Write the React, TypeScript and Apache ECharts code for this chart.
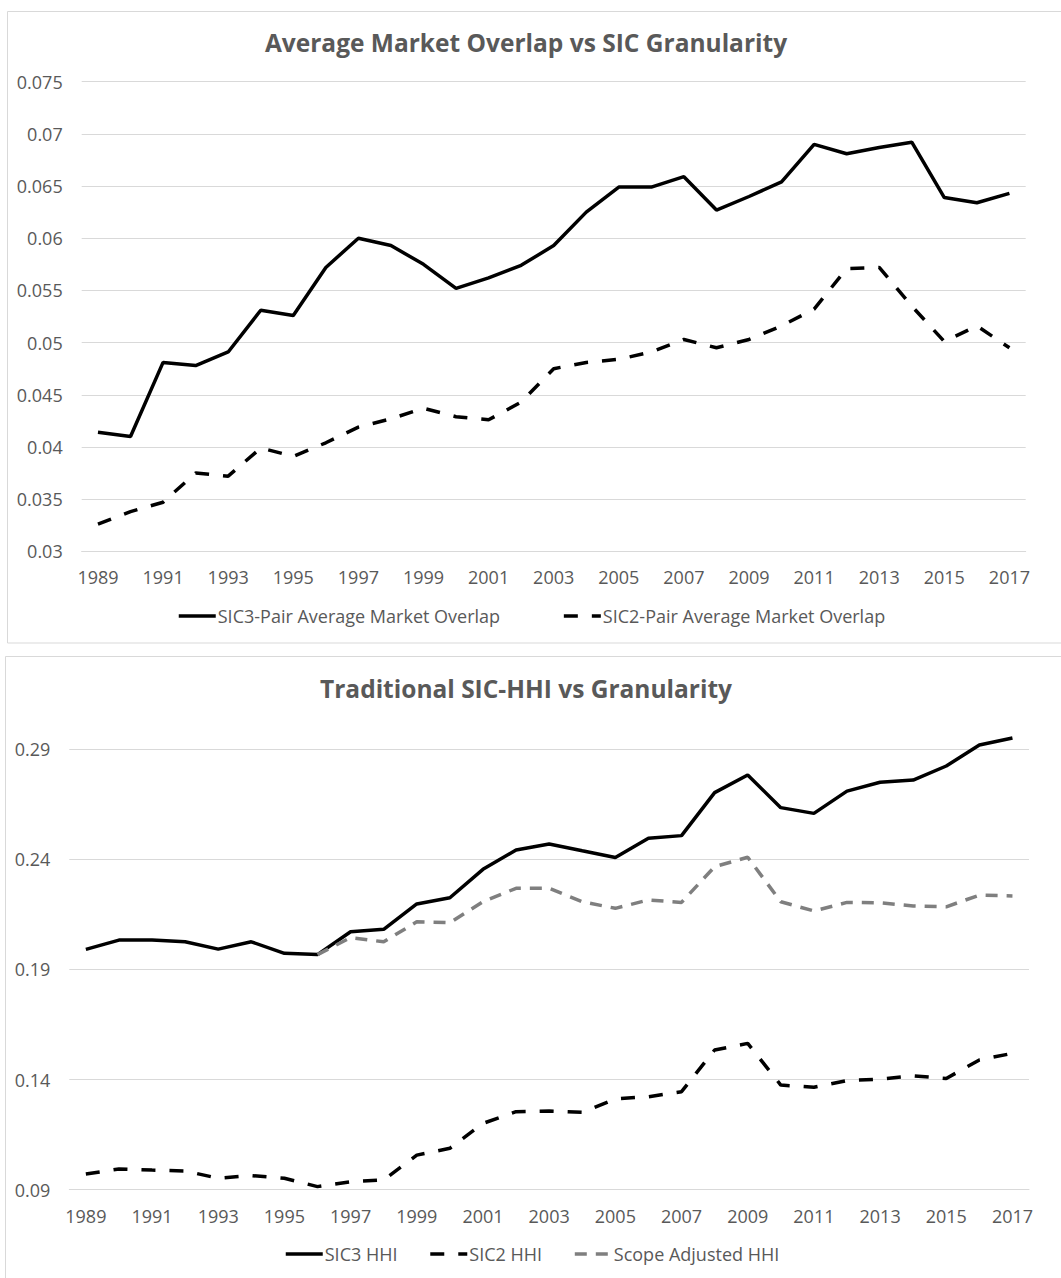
import React, { useEffect, useRef } from "react";
import * as echarts from "echarts";

const years = [
  "1989","1990","1991","1992","1993","1994","1995","1996","1997","1998",
  "1999","2000","2001","2002","2003","2004","2005","2006","2007","2008",
  "2009","2010","2011","2012","2013","2014","2015","2016","2017",
];

const sic3Overlap = [
  0.0414, 0.0410, 0.0481, 0.0478, 0.0491, 0.0531, 0.0526, 0.0572, 0.0600, 0.0593,
  0.0575, 0.0552, 0.0562, 0.0574, 0.0593, 0.0625, 0.0649, 0.0649, 0.0659, 0.0627,
  0.0640, 0.0654, 0.0690, 0.0681, 0.0687, 0.0692, 0.0639, 0.0634, 0.0643,
];

const sic2Overlap = [
  0.0326, 0.0338, 0.0347, 0.0375, 0.0372, 0.0399, 0.0391, 0.0404, 0.0419, 0.0427,
  0.0437, 0.0429, 0.0426, 0.0443, 0.0475, 0.0481, 0.0484, 0.0491, 0.0503, 0.0495,
  0.0503, 0.0516, 0.0532, 0.0571, 0.0572, 0.0535, 0.0501, 0.0516, 0.0495,
];

const sic3HHI = [
  0.1991, 0.2033, 0.2033, 0.2025, 0.1992, 0.2025, 0.1973, 0.1967, 0.2071, 0.2082,
  0.2197, 0.2225, 0.2354, 0.2442, 0.2469, 0.2438, 0.2408, 0.2495, 0.2507, 0.2702,
  0.2782, 0.2634, 0.2608, 0.2709, 0.2749, 0.2759, 0.2823, 0.2918, 0.2950,
];

const sic2HHI = [
  0.0971, 0.0994, 0.0989, 0.0985, 0.0952, 0.0964, 0.0952, 0.0914, 0.0936, 0.0944,
  0.1057, 0.1088, 0.1201, 0.1254, 0.1257, 0.1251, 0.1312, 0.1322, 0.1345, 0.1534,
  0.1564, 0.1375, 0.1365, 0.1395, 0.1402, 0.1417, 0.1405, 0.1489, 0.1519,
];

const scopeHHI = [
  null, null, null, null, null, null, null, 0.1967, 0.2044, 0.2025,
  0.2116, 0.2112, 0.2207, 0.2268, 0.2268, 0.2207, 0.2177, 0.2215, 0.2204, 0.2366,
  0.2409, 0.2207, 0.2165, 0.2204, 0.2202, 0.2188, 0.2184, 0.2237, 0.2233,
];

const topTicks = { min: 0.03, max: 0.075, interval: 0.005 };
const bottomTicks = { min: 0.09, max: 0.3, interval: 0.05 };

const FONT = "Open Sans";
const TEXT = "#595959";
const GRID = "#d9d9d9";

export default function App() {
  const ref = useRef<HTMLDivElement>(null);

  useEffect(() => {
    document.body.style.margin = "0";
    if (!ref.current) return;
    const chart = echarts.init(ref.current, undefined, { renderer: "svg" });

    const fmt = (v: number) => String(+Number(v).toFixed(4));
    const axisLabel = { color: TEXT, fontFamily: FONT, fontSize: 18 };
    const legendBase = {
      itemWidth: 37,
      itemHeight: 14,
      itemStyle: { opacity: 0 },
      lineStyle: { width: 3.5 },
      textStyle: { color: TEXT, fontFamily: FONT, fontSize: 18, padding: [0, 0, 0, -3] },
    };

    const option: any = {
      animation: false,
      backgroundColor: "#ffffff",
      title: [
        {
          text: "Average Market Overlap vs SIC Granularity",
          left: 521,
          top: 25,
          textAlign: "center",
          textStyle: { color: TEXT, fontFamily: FONT, fontWeight: "bold", fontSize: 24.5 },
        },
        {
          text: "Traditional SIC-HHI vs Granularity",
          left: 521,
          top: 671,
          textAlign: "center",
          textStyle: { color: TEXT, fontFamily: FONT, fontWeight: "bold", fontSize: 24.5 },
        },
      ],
      graphic: [
        {
          type: "rect",
          shape: { x: 7.5, y: 11.5, width: 1060, height: 631.5 },
          style: { fill: "none", stroke: GRID, lineWidth: 1 },
          silent: true,
        },
        {
          type: "rect",
          shape: { x: 5.5, y: 656.5, width: 1060, height: 640 },
          style: { fill: "none", stroke: GRID, lineWidth: 1 },
          silent: true,
        },
      ],
      legend: [
        {
          ...legendBase,
          data: ["SIC3-Pair Average Market Overlap", "SIC2-Pair Average Market Overlap"],
          left: 172,
          top: 602,
          itemGap: 62,
        },
        {
          ...legendBase,
          data: ["SIC3 HHI", "SIC2 HHI", "Scope Adjusted HHI"],
          left: 279,
          top: 1240,
          itemGap: 31,
        },
      ],
      grid: [
        { left: 81.7, right: 35.3, top: 81.7, height: 469.6, containLabel: false },
        { left: 69.3, right: 32, top: 727, height: 462.7, containLabel: false },
      ],
      xAxis: [0, 1].map((i) => ({
        type: "category",
        gridIndex: i,
        data: years,
        boundaryGap: true,
        axisLine: { show: true, lineStyle: { color: GRID, width: 1 } },
        axisTick: { show: false },
        axisLabel: { ...axisLabel, interval: 1, margin: 17 },
        splitLine: { show: false },
      })),
      yAxis: [
        {
          type: "value",
          gridIndex: 0,
          min: topTicks.min,
          max: topTicks.max,
          interval: topTicks.interval,
          axisLine: { show: false },
          axisTick: { show: false },
          axisLabel: { ...axisLabel, margin: 19, formatter: fmt },
          splitLine: { show: true, lineStyle: { color: GRID, width: 1 } },
        },
        {
          type: "value",
          gridIndex: 1,
          min: bottomTicks.min,
          max: bottomTicks.max,
          interval: bottomTicks.interval,
          axisLine: { show: false },
          axisTick: { show: false },
          axisLabel: { ...axisLabel, margin: 19, formatter: fmt, showMaxLabel: false },
          splitLine: {
            show: true,
            lineStyle: { color: [GRID, GRID, GRID, GRID, GRID, "rgba(0,0,0,0)"], width: 1 },
          },
        },
      ],
      series: [
        {
          name: "SIC3-Pair Average Market Overlap",
          type: "line",
          xAxisIndex: 0,
          yAxisIndex: 0,
          data: sic3Overlap,
          symbol: "none",
          lineStyle: { color: "#000000", width: 3.5, type: "solid" },
          itemStyle: { color: "#000000" },
        },
        {
          name: "SIC2-Pair Average Market Overlap",
          type: "line",
          xAxisIndex: 0,
          yAxisIndex: 0,
          data: sic2Overlap,
          symbol: "none",
          lineStyle: { color: "#000000", width: 3.5, type: [14, 14] },
          itemStyle: { color: "#000000" },
        },
        {
          name: "SIC3 HHI",
          type: "line",
          xAxisIndex: 1,
          yAxisIndex: 1,
          data: sic3HHI,
          symbol: "none",
          lineStyle: { color: "#000000", width: 3.5, type: "solid" },
          itemStyle: { color: "#000000" },
        },
        {
          name: "SIC2 HHI",
          type: "line",
          xAxisIndex: 1,
          yAxisIndex: 1,
          data: sic2HHI,
          symbol: "none",
          lineStyle: { color: "#000000", width: 3.5, type: [14, 14] },
          itemStyle: { color: "#000000" },
        },
        {
          name: "Scope Adjusted HHI",
          type: "line",
          xAxisIndex: 1,
          yAxisIndex: 1,
          data: scopeHHI,
          symbol: "none",
          connectNulls: false,
          lineStyle: { color: "#7f7f7f", width: 3.5, type: [12, 9] },
          itemStyle: { color: "#7f7f7f" },
        },
      ],
    };

    chart.setOption(option);
    return () => chart.dispose();
  }, []);

  return <div ref={ref} style={{ width: 1061, height: 1278 }} />;
}
